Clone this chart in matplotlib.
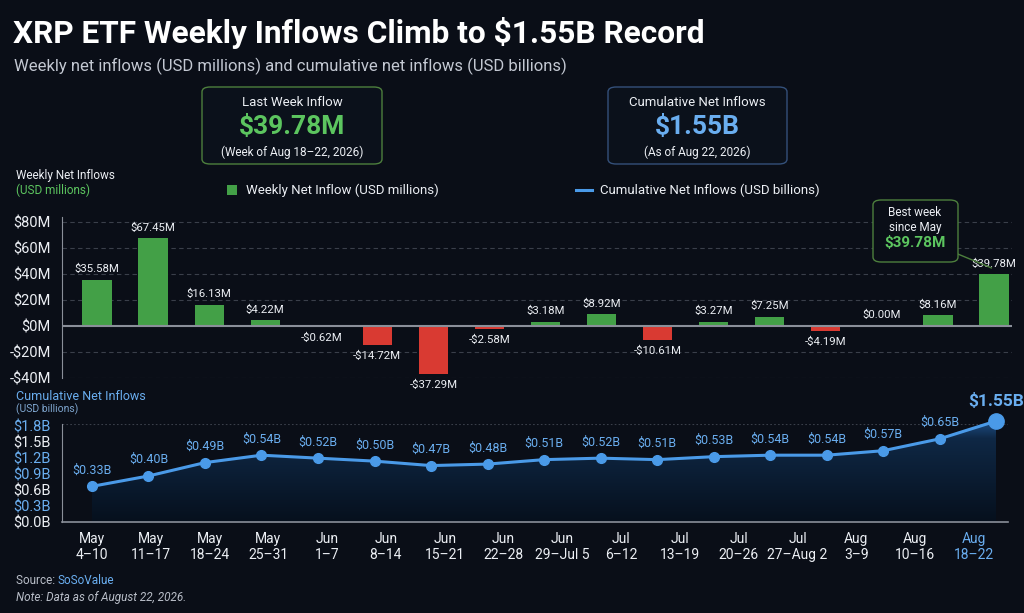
import numpy as np
import matplotlib
matplotlib.use('Agg')
from matplotlib import pyplot as plt
from matplotlib.patches import FancyBboxPatch, Rectangle
from matplotlib.lines import Line2D

plt.rcParams['font.family'] = ['Roboto', 'DejaVu Sans']

# data
week_months = ['May', 'May', 'May', 'May', 'Jun', 'Jun', 'Jun', 'Jun', 'Jun', 'Jul',
               'Jul', 'Jul', 'Jul', 'Aug', 'Aug', 'Aug']
week_days = ['4–10', '11–17', '18–24', '25–31', '1–7', '8–14', '15–21', '22–28',
             '29–Jul 5', '6–12', '13–19', '20–26', '27–Aug 2', '3–9', '10–16', '18–22']
weekly = [35.58, 67.45, 16.13, 4.22, -0.62, -14.72, -37.29, -2.58, 3.18, 8.92,
          -10.61, 3.27, 7.25, -4.19, 0.00, 8.16, 39.78]
cumulative = [0.33, 0.40, 0.49, 0.54, 0.52, 0.50, 0.47, 0.48, 0.51, 0.52,
              0.51, 0.53, 0.54, 0.54, 0.57, 0.65, 1.55]
cum_ticks = [0.0, 0.3, 0.6, 0.9, 1.2, 1.5, 1.8]
weekly_ticks = [-40, -20, 0, 20, 40, 60, 80]

BG = '#0a0e17'
GREEN = '#43a047'
RED = '#d93a32'
BLUE = '#4a9ae8'
LBLUE = '#6aaef0'
WHITE = '#eceff4'
GRAY = '#b9bec8'

W, H = 1024, 613
fig = plt.figure(figsize=(W / 100, H / 100), dpi=100, facecolor=BG)


def fx(x):
    return x / W


def fy(y):
    return 1 - y / H


x = np.arange(len(weekly))

# ---------- weekly bars ----------
ax = fig.add_axes([fx(62), fy(378), fx(1012 - 62), (378 - 217) / H])
ax.set_facecolor(BG)
colors = [GREEN if v >= 0 else RED for v in weekly]
ax.bar(x, weekly, width=0.52, color=colors, zorder=3)
ax.set_xlim(-0.624, 16.32)
ax.set_ylim(-40, 83.8)
ax.set_yticks(weekly_ticks)
ax.set_yticklabels([('-$%dM' % -t) if t < 0 else '$%dM' % t for t in weekly_ticks])
ax.tick_params(axis='y', colors=WHITE, labelsize=10.5, length=0, pad=8)
ax.set_xticks([])
for t in weekly_ticks:
    if t != 0:
        ax.axhline(t, color='#3a3f4a', lw=0.8, ls=(0, (4, 3)), zorder=1)
ax.axhline(0, color='#8a8f99', lw=1.5, zorder=4)
for s in ['top', 'right', 'bottom']:
    ax.spines[s].set_visible(False)
ax.spines['left'].set_color('#8a8f99')
for i, v in enumerate(weekly):
    lab = ('-$%.2fM' % -v) if v < 0 else '$%.2fM' % v
    if v >= 0:
        ax.annotate(lab, (i, v), xytext=(0, 4), textcoords='offset points',
                    ha='center', va='bottom', color=WHITE, fontsize=8.2)
    else:
        ax.annotate(lab, (i, v), xytext=(0, -4), textcoords='offset points',
                    ha='center', va='top', color=WHITE, fontsize=8.2)

# ---------- cumulative line ----------
# the reference compresses the top of this panel; mimic with a piecewise scale
xp = [-1.0, 0.65, 1.55, 5.0]
fp = [-163.5, 84.0, 102.0, 171.0]


def fwd(v):
    return np.interp(v, xp, fp)


def inv(p):
    return np.interp(p, fp, xp)


axc = fig.add_axes([fx(62), fy(522), fx(1008 - 62), (522 - 424) / H])
axc.set_facecolor(BG)
axc.set_yscale('function', functions=(fwd, inv))
ylo, yhi = float(inv(0)), float(inv(99))
axc.set_yticks([])
axc.plot(x, cumulative, color=BLUE, lw=2.2, zorder=4, clip_on=False)
axc.plot(x[:-1], cumulative[:-1], 'o', color=BLUE, ms=7, zorder=5, clip_on=False)
axc.plot(x[-1:], cumulative[-1:], 'o', color=BLUE, ms=11, zorder=5, clip_on=False)
poly = axc.fill_between(x, cumulative, ylo, color='none', lw=0)
grad = np.linspace(0, 1, 256).reshape(-1, 1)
cmap = matplotlib.colors.LinearSegmentedColormap.from_list('g', ['#06101d', '#1d4e86'])
img = axc.imshow(grad, aspect='auto', cmap=cmap, origin='lower',
                 extent=[x[0], x[-1], ylo, 1.55], zorder=2)
img.set_clip_path(poly.get_paths()[0], transform=axc.transData)
axc.set_xlim(-0.53, 16.21)
axc.set_ylim(ylo, yhi)
axc.axhline(yhi, color='#3a3f4a', lw=0.8, ls=(0, (1.5, 2)), zorder=1)
for i, v in enumerate(cumulative[:-1]):
    axc.annotate('$%.2fB' % v, (i, v), xytext=(0, 7), textcoords='offset points',
                 ha='center', va='bottom', color=LBLUE, fontsize=9)
axc.annotate('$%.2fB' % cumulative[-1], (x[-1], cumulative[-1]), xytext=(0, 9),
             textcoords='offset points', ha='center', va='bottom', color=LBLUE,
             fontsize=12.5, fontweight='bold', annotation_clip=False)
for s in ['top', 'right']:
    axc.spines[s].set_visible(False)
axc.spines['left'].set_color('#8a8f99')
axc.spines['bottom'].set_color('#8a8f99')
axc.spines['bottom'].set_linewidth(1.2)
axc.set_xticks([])

# week labels (16 weeks, spread over the panel)
axl = axc.twiny()
axl.set_xlim(-0.51, 15.58)
axl.xaxis.tick_bottom()
axl.set_xticks(np.arange(len(week_days)))
axl.set_xticklabels([m + '\n' + d for m, d in zip(week_months, week_days)])
axl.tick_params(axis='x', colors=WHITE, labelsize=10, length=0, pad=7)
axl.get_xticklabels()[-1].set_color(LBLUE)
for s in axl.spines.values():
    s.set_visible(False)

# tick labels of the cumulative panel (linear 0–1.8)
axt = axc.twinx()
axt.set_ylim(0, 1.83)
axt.yaxis.tick_left()
axt.set_yticks(cum_ticks)
axt.set_yticklabels(['$%.1fB' % t for t in cum_ticks])
axt.tick_params(axis='y', labelsize=10.5, length=0, pad=8)
tick_cols = [WHITE, LBLUE, WHITE, LBLUE, LBLUE, WHITE, LBLUE]
for lab, c in zip(axt.get_yticklabels(), tick_cols):
    lab.set_color(c)
for s in axt.spines.values():
    s.set_visible(False)

# ---------- header ----------
fig.text(fx(13), fy(33), 'XRP ETF Weekly Inflows Climb to $1.55B Record',
         color='white', fontsize=22.8, fontweight='bold', va='center')
fig.text(fx(14), fy(66), 'Weekly net inflows (USD millions) and cumulative net inflows (USD billions)',
         color='#c3c8d2', fontsize=12, va='center')

for (x0, x1, ec, t1, t2, t3, c2) in [
        (202, 382, '#4d7f3d', 'Last Week Inflow', '$39.78M', '(Week of Aug 18–22, 2026)', '#5cc55f'),
        (608, 787, '#34507a', 'Cumulative Net Inflows', '$1.55B', '(As of Aug 22, 2026)', LBLUE)]:
    fig.patches.append(FancyBboxPatch((fx(x0), fy(164)), fx(x1 - x0), (164 - 87) / H,
                                      boxstyle='round,pad=0,rounding_size=0.008',
                                      transform=fig.transFigure, fc='#0b111b', ec=ec, lw=1))
    xm = fx((x0 + x1) / 2)
    fig.text(xm, fy(102), t1, color=WHITE, fontsize=9.5, ha='center', va='center')
    fig.text(xm, fy(127), t2, color=c2, fontsize=19, fontweight='bold', ha='center', va='center')
    fig.text(xm, fy(152), t3, color=WHITE, fontsize=8.5, ha='center', va='center')

# legend
fig.patches.append(Rectangle((fx(227), fy(195)), fx(10), 10 / H, transform=fig.transFigure,
                             fc=GREEN, ec='none'))
fig.text(fx(246), fy(190), 'Weekly Net Inflow (USD millions)', color=WHITE, fontsize=9.5, va='center')
fig.lines.append(Line2D([fx(576), fx(592)], [fy(190), fy(190)], transform=fig.transFigure,
                        color=BLUE, lw=2.2))
fig.text(fx(600), fy(190), 'Cumulative Net Inflows (USD billions)', color=WHITE, fontsize=9.5, va='center')

fig.text(fx(16), fy(175), 'Weekly Net Inflows', color=WHITE, fontsize=8.5, va='center')
fig.text(fx(16), fy(190), '(USD millions)', color='#5cc55f', fontsize=8.5, va='center')
fig.text(fx(16), fy(397), 'Cumulative Net Inflows', color=LBLUE, fontsize=9, va='center')
fig.text(fx(16), fy(409), '(USD billions)', color='#7fa6cf', fontsize=7.5, va='center')

# best week callout
fig.patches.append(FancyBboxPatch((fx(873), fy(262)), fx(958 - 873), (262 - 200) / H,
                                  boxstyle='round,pad=0,rounding_size=0.008',
                                  transform=fig.transFigure, fc=BG, ec='#4d7f3d', lw=1, zorder=5))
fig.text(fx(915), fy(213), 'Best week', color=WHITE, fontsize=8.5, ha='center', va='center', zorder=6)
fig.text(fx(915), fy(227), 'since May', color=WHITE, fontsize=8.5, ha='center', va='center', zorder=6)
fig.text(fx(915), fy(243), '$39.78M', color='#5cc55f', fontsize=11, fontweight='bold',
         ha='center', va='center', zorder=6)
ax.annotate('', xy=(x[-1], weekly[-1] + 4), xytext=(fx(953), fy(252)),
            textcoords='figure fraction',
            arrowprops=dict(arrowstyle='-', color='#4d7f3d', lw=1), annotation_clip=False)

# footer
fig.text(fx(16), fy(581), 'Source: ', color=GRAY, fontsize=8.5, va='center')
fig.text(fx(57), fy(581), 'SoSoValue', color=LBLUE, fontsize=8.5, va='center')
fig.text(fx(16), fy(598), 'Note: Data as of August 22, 2026.', color=GRAY, fontsize=8.5,
         style='italic', va='center')

fig.savefig('out.png', dpi=100, facecolor=BG)
